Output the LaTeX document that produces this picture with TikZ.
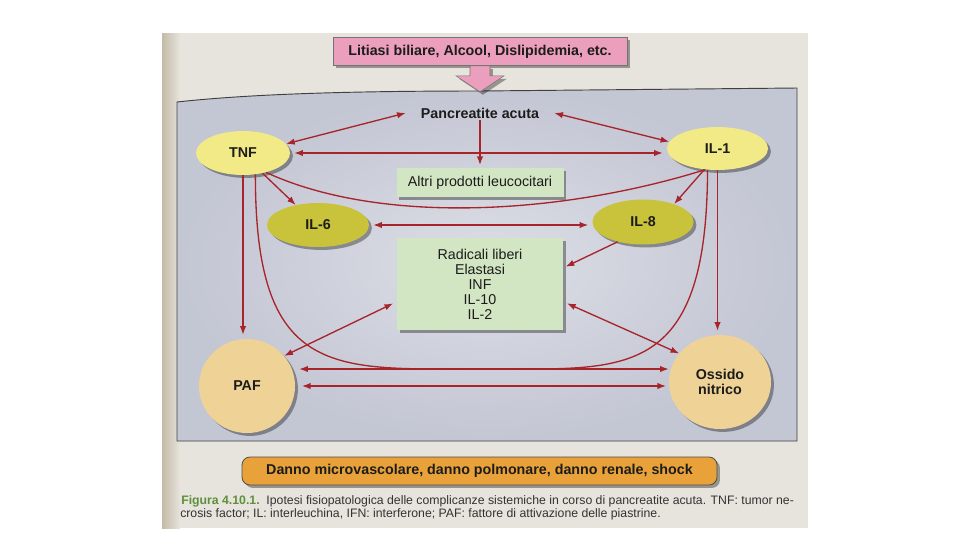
\documentclass[tikz,border=0pt]{standalone}
\usepackage{fontspec}
\setmainfont{Liberation Sans}
\usetikzlibrary{shapes.geometric,arrows.meta,shadows,calc}
\definecolor{arrowred}{HTML}{A8242B}
\definecolor{pagecol}{HTML}{E7E4DD}
\definecolor{pagedark}{HTML}{C4BAA8}
\definecolor{panelin}{HTML}{DCDEE6}
\definecolor{panelout}{HTML}{C3C6D3}
\definecolor{lightyel}{HTML}{F2EA86}
\definecolor{olive}{HTML}{C9C33B}
\definecolor{tan}{HTML}{EFD396}
\definecolor{paleGreen}{HTML}{D3E6C3}
\definecolor{pinkbox}{HTML}{EC9FBC}
\definecolor{orangebox}{HTML}{E9A23A}
\definecolor{figgreen}{HTML}{5E8F3C}
\definecolor{inktext}{HTML}{1C1C1C}
\newcommand\mylbl{\fontsize{10.7pt}{11.25pt}\selectfont}
\newcommand\mycap{\fontsize{9.2pt}{9.75pt}\selectfont}
\begin{document}
\begin{tikzpicture}[x=0.75pt,y=-0.75pt,
  dshadow/.style={drop shadow={shadow xshift=2.2pt,shadow yshift=-2.2pt,opacity=0.35,fill=black}},
  ovl/.style={ellipse,inner sep=0pt,text=inktext,font=\mylbl\bfseries,dshadow},
  gbox/.style={rectangle,fill=paleGreen,inner sep=0pt,text=inktext,font=\mylbl,align=center,dshadow},
  link/.style={draw=arrowred,line width=1pt},
  both/.style={link,{Latex[length=6.5pt,width=4.8pt]}-{Latex[length=6.5pt,width=4.8pt]}},
  oneway/.style={link,-{Latex[length=6.5pt,width=4.8pt]}}]
\useasboundingbox (0,0) rectangle (960,540);
\fill[white] (0,0) rectangle (960,540);
% page
\fill[pagecol] (162,33) rectangle (808,528);
\shade[left color=pagedark,right color=pagecol] (162,33) rectangle (180,528);
% panel
\shade[inner color=panelin,outer color=panelout]
  (177,102) .. controls (250,94) and (350,91) .. (480,91) -- (797,88) -- (797,441) -- (177,441) -- cycle;
\draw[black!75,line width=0.7pt]
  (177,102) .. controls (250,94) and (350,91) .. (480,91) -- (797,88) -- (797,441) -- (177,441) -- cycle;
% top box and block arrow
\node[rectangle,fill=pinkbox,draw=black!55,line width=0.5pt,minimum width=294*0.75pt,minimum height=28*0.75pt,
  font=\mylbl\bfseries,text=inktext,dshadow] (top) at (480,51.5) {Litiasi biliare, Alcool, Dislipidemia, etc.};
\fill[pinkbox,draw=black!55,line width=0.4pt,dshadow]
  ($(top.south)+(-10,0)$) -- ++(20,0) -- ++(0,10) -- ++(14,0) -- ($(top.south)+(0,26)$)
  -- ($(top.south)+(-24,10)$) -- ++(14,0) -- cycle;
% nodes
\node[inner sep=0pt,minimum width=148*0.75pt,minimum height=14*0.75pt,font=\mylbl\bfseries,text=inktext] (panc) at (480,113) {Pancreatite acuta};
\node[ovl,fill=lightyel,minimum width=94*0.75pt,minimum height=44*0.75pt] (tnf) at (243,153) {TNF};
\node[ovl,fill=lightyel,minimum width=101*0.75pt,minimum height=43*0.75pt] (il1) at (717.5,148.5) {IL-1};
\node[gbox,minimum width=167*0.75pt,minimum height=29*0.75pt] (altri) at (480,182.5) {Altri prodotti leucocitari};
\node[ovl,fill=olive,minimum width=102*0.75pt,minimum height=44*0.75pt] (il6) at (318,225) {IL-6};
\node[ovl,fill=olive,minimum width=101*0.75pt,minimum height=45*0.75pt] (il8) at (643,222) {IL-8};
\node[gbox,minimum width=166*0.75pt,minimum height=92*0.75pt] (rad) at (480,284) {Radicali liberi\\Elastasi\\INF\\IL-10\\IL-2};
\node[ovl,fill=tan,minimum width=96*0.75pt,minimum height=94*0.75pt] (paf) at (247,386) {PAF};
\node[ovl,fill=tan,minimum width=102*0.75pt,minimum height=94*0.75pt,align=center] (oss) at (720,382) {Ossido\\nitrico};
\node[rectangle,rounded corners=6pt,fill=orangebox,draw=black!70,line width=0.6pt,minimum width=475*0.75pt,minimum height=28*0.75pt,
  font=\mylbl\bfseries,text=inktext,dshadow] (dmg) at (479.5,471) {Danno microvascolare, danno polmonare, danno renale, shock};
% caption
\node[anchor=west,inner sep=0pt,font=\mycap,text=black!80] (cap1) at (181,501)
  {{\color{figgreen}\bfseries Figura 4.10.1.}\ \ Ipotesi fisiopatologica delle complicanze sistemiche in corso di pancreatite acuta. TNF: tumor ne-};
\node[anchor=west,inner sep=0pt,font=\mycap,text=black!80] (cap2) at (180,514.5)
  {crosis factor; IL: interleuchina, IFN: interferone; PAF: fattore di attivazione delle piastrine.};
% merge points of the two long curves
\coordinate (hy) at (0,369);
\coordinate (mergeL) at (440,369);
\coordinate (mergeR) at (530,369);
% connectors
\draw[both] (panc.west) -- (tnf.12);
\draw[both] (panc.east) -- (il1.172);
\draw[both,shorten <=3pt,shorten >=3pt] (tnf.east) -- (tnf.east -| il1.west);
\draw[oneway,shorten >=2pt] (panc.south) -- (altri.north);
\draw[oneway] (tnf.-46) -- (il6.138);
\draw[oneway] (il1.238) -- (il8.30);
\draw[link] (tnf.-40) .. controls (380,225) and (560,215) .. (il1.240);
\draw[both,shorten <=3pt,shorten >=3pt] (il6.east) -- (il6.east -| il8.west);
\draw[oneway,shorten >=2pt] (il8.218) -- (rad.11);
\draw[oneway,shorten >=3pt] (tnf.south) -- (tnf.south |- paf.north);
\draw[oneway,shorten >=3pt] (il1.south) -- (il1.south |- oss.north);
\draw[link] (tnf.-60) .. controls (255,360) and (320,369) .. (mergeL);
\draw[link] (il1.245) .. controls (707,360) and (640,369) .. (mergeR);
\draw[both,shorten <=3pt] (paf.east |- hy) -- (oss.west |- hy);
\draw[both,shorten <=5pt,shorten >=2pt] (paf.east) -- (paf.east -| oss.west);
\draw[both,shorten >=3pt] (paf.39) -- (rad.192);
\draw[both,shorten <=3pt] (rad.-12) -- (oss.145);
\end{tikzpicture}
\end{document}
